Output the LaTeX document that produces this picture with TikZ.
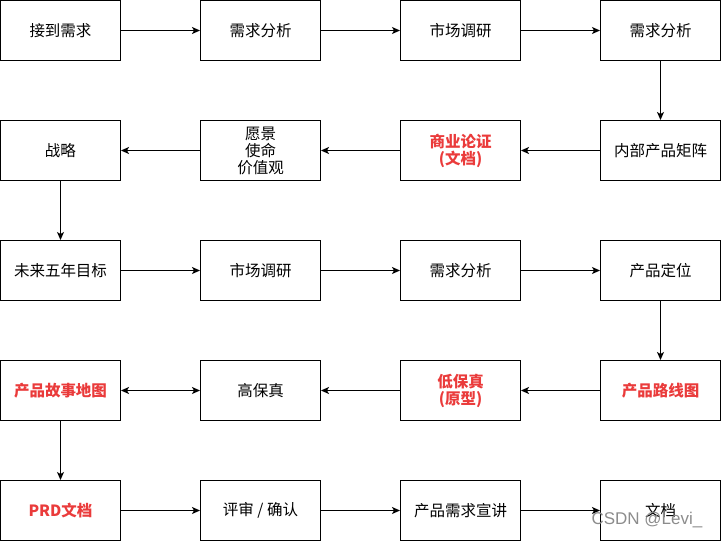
\documentclass[tikz,border=0pt]{standalone}
\usepackage{fontspec}
\setmainfont{Noto Sans CJK SC}
\newfontfamily\wmfont{Liberation Sans}
\usetikzlibrary{arrows.meta}
\definecolor{redtxt}{HTML}{EA3B3B}
\tikzset{
  box/.style={draw=black, line width=1pt, minimum width=120pt, minimum height=60pt, inner sep=0pt, align=center, font=\fontsize{15.5}{17}\selectfont},
  redbox/.style={box, text=redtxt, font=\fontsize{15.5}{17}\selectfont\bfseries},
  conn/.style={line width=1pt, -{Stealth[length=8pt,width=7pt,inset=2pt]}},
  dconn/.style={line width=1pt, {Stealth[length=8pt,width=7pt,inset=2pt]}-{Stealth[length=8pt,width=7pt,inset=2pt]}}
}
\begin{document}
\begin{tikzpicture}[x=1pt,y=-1pt]
\useasboundingbox (0,0) rectangle (721,541);
% row 1
\node[box] (a1) at (60.5,30.5) {接到需求};
\node[box] (a2) at (260.5,30.5) {需求分析};
\node[box] (a3) at (460.5,30.5) {市场调研};
\node[box] (a4) at (660.5,30.5) {需求分析};
% row 2
\node[box] (b1) at (60.5,150.5) {战略};
\node[box] (b2) at (260.5,150.5) {愿景\\使命\\价值观};
\node[redbox] (b3) at (460.5,150.5) {商业论证\\(文档)};
\node[box] (b4) at (660.5,150.5) {内部产品矩阵};
% row 3
\node[box] (c1) at (60.5,270.5) {未来五年目标};
\node[box] (c2) at (260.5,270.5) {市场调研};
\node[box] (c3) at (460.5,270.5) {需求分析};
\node[box] (c4) at (660.5,270.5) {产品定位};
% row 4
\node[redbox] (d1) at (60.5,390.5) {产品故事地图};
\node[box] (d2) at (260.5,390.5) {高保真};
\node[redbox] (d3) at (460.5,390.5) {低保真\\(原型)};
\node[redbox] (d4) at (660.5,390.5) {产品路线图};
% row 5
\node[redbox] (e1) at (60.5,510.5) {PRD文档};
\node[box] (e2) at (260.5,510.5) {评审 / 确认};
\node[box] (e3) at (460.5,510.5) {产品需求宣讲};
\node[box] (e4) at (660.5,510.5) {文档};
% connectors
\draw[conn] (a1) -- (a2);
\draw[conn] (a2) -- (a3);
\draw[conn] (a3) -- (a4);
\draw[conn] (a4) -- (b4);
\draw[conn] (b4) -- (b3);
\draw[conn] (b3) -- (b2);
\draw[conn] (b2) -- (b1);
\draw[conn] (b1) -- (c1);
\draw[conn] (c1) -- (c2);
\draw[conn] (c2) -- (c3);
\draw[conn] (c3) -- (c4);
\draw[conn] (c4) -- (d4);
\draw[conn] (d4) -- (d3);
\draw[conn] (d3) -- (d2);
\draw[dconn] (d2) -- (d1);
\draw[conn] (d1) -- (e1);
\draw[conn] (e1) -- (e2);
\draw[conn] (e2) -- (e3);
\draw[conn] (e3) -- (e4);
% watermark
\node[text=black!45, font=\wmfont\fontsize{17}{20}\selectfont, inner sep=0pt] (wm) at (647,520.5) {CSDN @Levi\_};
\end{tikzpicture}
\end{document}
